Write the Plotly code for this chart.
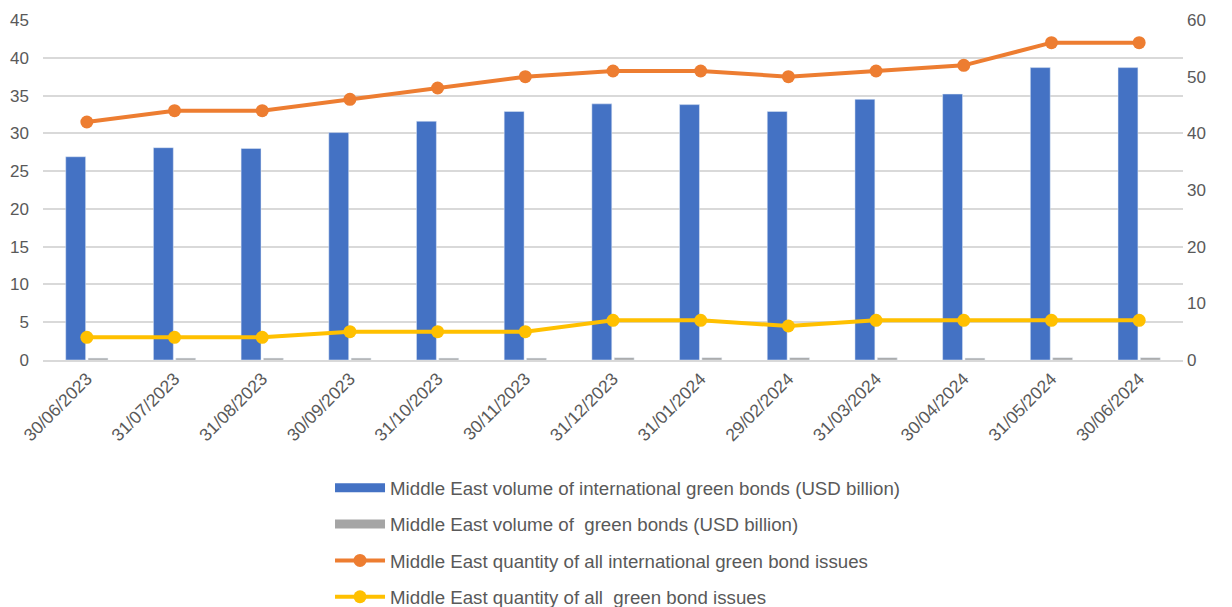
import plotly.graph_objects as go

dates = ["30/06/2023", "31/07/2023", "31/08/2023", "30/09/2023", "31/10/2023", "30/11/2023",
         "31/12/2023", "31/01/2024", "29/02/2024", "31/03/2024", "30/04/2024", "31/05/2024", "30/06/2024"]
intl_volume = [26.9, 28.1, 28.0, 30.1, 31.6, 32.9, 33.9, 33.8, 32.9, 34.5, 35.2, 38.7, 38.7]
green_volume = [0.25, 0.25, 0.25, 0.25, 0.25, 0.25, 0.3, 0.3, 0.3, 0.3, 0.25, 0.3, 0.3]
intl_quantity = [42, 44, 44, 46, 48, 50, 51, 51, 50, 51, 52, 56, 56]
green_quantity = [4, 4, 4, 5, 5, 5, 7, 7, 6, 7, 7, 7, 7]

names = ["Middle East volume of international green bonds (USD billion)",
         "Middle East volume of  green bonds (USD billion)",
         "Middle East quantity of all international green bond issues",
         "Middle East quantity of all  green bond issues"]
colors = ["#4472C4", "#A5A5A5", "#ED7D31", "#FFC000"]

font_family = "Liberation Sans, Arial, sans-serif"
text_color = "#595959"

fig = go.Figure()
fig.add_trace(go.Bar(x=dates, y=intl_volume, name=names[0], marker=dict(color=colors[0]),
                     showlegend=False))
fig.add_trace(go.Bar(x=dates, y=green_volume, name=names[1], marker=dict(color=colors[1]),
                     showlegend=False))
# legend entries for bars drawn as thick bands
for i in range(2):
    fig.add_trace(go.Scatter(x=[None], y=[None], mode="lines", name=names[i],
                             line=dict(color=colors[i], width=9), legendgroup=f"g{i}"))
fig.add_trace(go.Scatter(x=dates, y=intl_quantity, name=names[2],
                         mode="lines+markers", line=dict(color=colors[2], width=4),
                         marker=dict(size=13, color=colors[2]), yaxis="y2", legendgroup="g2"))
fig.add_trace(go.Scatter(x=dates, y=green_quantity, name=names[3],
                         mode="lines+markers", line=dict(color=colors[3], width=4),
                         marker=dict(size=13, color=colors[3]), yaxis="y2", legendgroup="g3"))

fig.update_layout(
    width=1232, height=607,
    margin=dict(l=35, r=57, t=12, b=255, autoexpand=False),
    paper_bgcolor="white", plot_bgcolor="white",
    font=dict(family=font_family, size=17, color=text_color),
    barmode="group", bargap=0.49, bargroupgap=0.11,
    xaxis=dict(tickangle=-45, tickfont=dict(size=17.5, color=text_color), showgrid=False,
               showline=True, linecolor="#d9d9d9", linewidth=1.5, ticks="", automargin=False,
               range=[-0.5, len(dates) - 0.5]),
    yaxis=dict(range=[0, 45], dtick=5, showgrid=True, gridcolor="#d9d9d9", gridwidth=1.5,
               zeroline=False, tickfont=dict(size=17, color=text_color), ticks="",
               automargin=False, ticklabelstandoff=13),
    yaxis2=dict(range=[0, 60], dtick=10, overlaying="y", side="right", showgrid=False,
                zeroline=False, tickfont=dict(size=17, color=text_color), ticks="",
                automargin=False, ticklabelstandoff=3),
    legend=dict(orientation="v", x=0.5044, xanchor="center", y=-0.321, yanchor="top",
                font=dict(size=18.7, color=text_color), tracegroupgap=9, traceorder="grouped",
                itemwidth=50),
    showlegend=True,
)

fig.write_html("out.html")
